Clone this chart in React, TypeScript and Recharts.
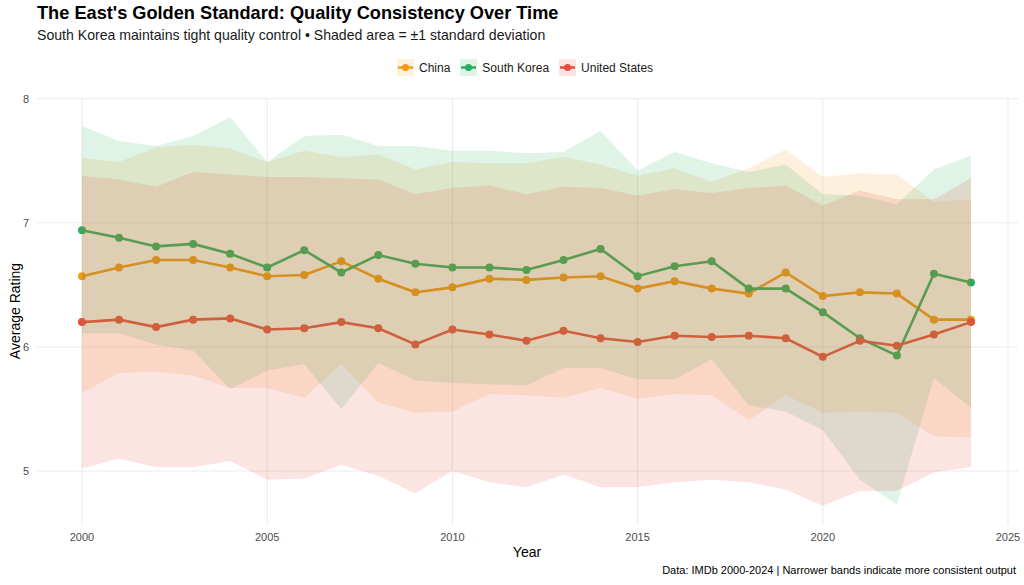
import React from 'react'
import { Area, ComposedChart, Line, ReferenceLine, XAxis, YAxis } from 'recharts'

// yearly average rating and the ±1 sd band edges
const years = [
  2000, 2001, 2002, 2003, 2004, 2005, 2006, 2007, 2008, 2009, 2010, 2011, 2012,
  2013, 2014, 2015, 2016, 2017, 2018, 2019, 2020, 2021, 2022, 2023, 2024,
]

const chinaMean = [6.57, 6.64, 6.7, 6.7, 6.64, 6.57, 6.58, 6.69, 6.55, 6.44, 6.48, 6.55, 6.54, 6.56, 6.57, 6.47, 6.53, 6.47, 6.43, 6.6, 6.41, 6.44, 6.43, 6.22, 6.22]
const chinaHigh = [7.52, 7.49, 7.61, 7.63, 7.6, 7.49, 7.58, 7.53, 7.55, 7.43, 7.49, 7.48, 7.48, 7.53, 7.47, 7.38, 7.44, 7.33, 7.44, 7.59, 7.37, 7.4, 7.39, 7.17, 7.19]
const chinaLow = [5.63, 5.79, 5.8, 5.77, 5.67, 5.67, 5.59, 5.86, 5.55, 5.47, 5.48, 5.62, 5.61, 5.59, 5.67, 5.58, 5.62, 5.61, 5.41, 5.61, 5.47, 5.48, 5.47, 5.28, 5.27]

const koreaMean = [6.94, 6.88, 6.81, 6.83, 6.75, 6.64, 6.78, 6.6, 6.74, 6.67, 6.64, 6.64, 6.62, 6.7, 6.79, 6.57, 6.65, 6.69, 6.47, 6.47, 6.28, 6.07, 5.93, 6.59, 6.52]
const koreaHigh = [7.78, 7.66, 7.62, 7.7, 7.85, 7.49, 7.7, 7.71, 7.62, 7.62, 7.58, 7.58, 7.56, 7.57, 7.74, 7.42, 7.57, 7.48, 7.41, 7.47, 7.23, 7.22, 7.15, 7.43, 7.54]
const koreaLow = [6.11, 6.11, 6.02, 5.97, 5.66, 5.81, 5.86, 5.5, 5.87, 5.73, 5.71, 5.7, 5.69, 5.83, 5.83, 5.74, 5.74, 5.9, 5.53, 5.48, 5.33, 4.93, 4.73, 5.75, 5.51]

const usMean = [6.2, 6.22, 6.16, 6.22, 6.23, 6.14, 6.15, 6.2, 6.15, 6.02, 6.14, 6.1, 6.05, 6.13, 6.07, 6.04, 6.09, 6.08, 6.09, 6.07, 5.92, 6.05, 6.01, 6.1, 6.2]
const usHigh = [7.38, 7.35, 7.29, 7.41, 7.39, 7.37, 7.37, 7.36, 7.35, 7.23, 7.28, 7.3, 7.23, 7.29, 7.28, 7.22, 7.27, 7.24, 7.28, 7.3, 7.14, 7.26, 7.19, 7.19, 7.36]
const usLow = [5.02, 5.1, 5.03, 5.03, 5.08, 4.93, 4.94, 5.05, 4.96, 4.82, 5.0, 4.91, 4.87, 4.97, 4.87, 4.87, 4.91, 4.93, 4.91, 4.85, 4.72, 4.84, 4.84, 4.99, 5.03]

const xTicks = [2000, 2005, 2010, 2015, 2020, 2025]
const yTicks = [5, 6, 7, 8]
const xDomain = [1998.785, 2025.27]
const yDomain = [4.565, 8.006]

const countries = [
  { key: 'china', name: 'China', color: '#F39C12' },
  { key: 'korea', name: 'South Korea', color: '#27AE60' },
  { key: 'us', name: 'United States', color: '#E74C3C' },
]

const data = years.map((year, i) => ({
  year,
  china: chinaMean[i],
  chinaBand: [chinaLow[i], chinaHigh[i]],
  korea: koreaMean[i],
  koreaBand: [koreaLow[i], koreaHigh[i]],
  us: usMean[i],
  usBand: [usLow[i], usHigh[i]],
}))

const font = '"Liberation Sans", Arial, Helvetica, sans-serif'
const tickStyle = { fill: '#4d4d4d', fontSize: 11, fontFamily: font }
const W = 1024
const H = 585
const layer = { position: 'absolute' as const, left: 0, top: 0 }
// same plot box in every layer
const shownMargin = { top: 98, right: 6, left: 7, bottom: 30 }
const hiddenMargin = { top: 98, right: 6, left: 37, bottom: 60 }

function LegendKey({ color }: { color: string }) {
  return (
    <svg width={17} height={17} style={{ display: 'block' }}>
      <rect x={0} y={0} width={17} height={17} fill={color} fillOpacity={0.15} />
      <line x1={1} y1={8.5} x2={16} y2={8.5} stroke={color} strokeWidth={2.5} />
      <circle cx={8.5} cy={8.5} r={3.5} fill={color} />
    </svg>
  )
}

export default function App() {
  return (
    <div style={{ position: 'absolute', left: 0, top: 0, width: W, height: H, background: '#fff', fontFamily: font }}>
      <div style={{ position: 'absolute', left: 37, top: 3, fontSize: 18.2, fontWeight: 700, color: '#000' }}>
        The East's Golden Standard: Quality Consistency Over Time
      </div>
      <div style={{ position: 'absolute', left: 37, top: 27, fontSize: 14.1, color: '#1a1a1a' }}>
        South Korea maintains tight quality control • Shaded area = ±1 standard deviation
      </div>

      <div style={{ position: 'absolute', left: 397, top: 59, display: 'flex', alignItems: 'center', fontSize: 12, color: '#1a1a1a' }}>
        {countries.map((c) => (
          <div key={c.key} style={{ display: 'flex', alignItems: 'center', marginRight: 10 }}>
            <LegendKey color={c.color} />
            <span style={{ marginLeft: 5 }}>{c.name}</span>
          </div>
        ))}
      </div>

      {/* layer 1: grid and axes */}
      <ComposedChart width={W} height={H} data={data} margin={shownMargin} style={layer}>
        <XAxis
          dataKey='year'
          type='number'
          domain={xDomain}
          ticks={xTicks}
          axisLine={false}
          tickLine={false}
          tick={tickStyle}
          height={30}
          allowDataOverflow
        />
        <YAxis
          domain={yDomain}
          ticks={yTicks}
          axisLine={false}
          tickLine={false}
          tick={tickStyle}
          width={30}
          allowDataOverflow
        />
        {yTicks.map((t) => (
          <ReferenceLine key={'h' + t} y={t} stroke='#ebebeb' strokeWidth={1} />
        ))}
        {xTicks.map((t) => (
          <ReferenceLine key={'v' + t} x={t} stroke='#ebebeb' strokeWidth={1} />
        ))}
      </ComposedChart>

      {/* layer 2: mean lines (under the ribbons, as in the original) */}
      <ComposedChart width={W} height={H} data={data} margin={hiddenMargin} style={layer}>
        <XAxis dataKey='year' type='number' domain={xDomain} hide allowDataOverflow />
        <YAxis domain={yDomain} hide allowDataOverflow />
        {countries.map((c) => (
          <Line
            key={c.key}
            type='linear'
            dataKey={c.key}
            stroke={c.color}
            strokeWidth={2.6}
            dot={{ r: 4, fill: c.color, stroke: 'none' }}
            activeDot={false}
            isAnimationActive={false}
          />
        ))}
      </ComposedChart>

      {/* layer 3: ±1 sd ribbons */}
      <ComposedChart width={W} height={H} data={data} margin={hiddenMargin} style={layer}>
        <XAxis dataKey='year' type='number' domain={xDomain} hide allowDataOverflow />
        <YAxis domain={yDomain} hide allowDataOverflow />
        {countries.map((c) => (
          <Area
            key={c.key + 'Band'}
            type='linear'
            dataKey={c.key + 'Band'}
            stroke='none'
            fill={c.color}
            fillOpacity={0.15}
            dot={false}
            activeDot={false}
            isAnimationActive={false}
          />
        ))}
      </ComposedChart>

      <svg width={W} height={H} style={{ ...layer, pointerEvents: 'none' }}>
        <text x={15} y={311} transform='rotate(-90 15 311)' textAnchor='middle' dominantBaseline='central' fontSize={14} fontFamily={font} fill='#000'>
          Average Rating
        </text>
        <text x={527} y={552} textAnchor='middle' dominantBaseline='central' fontSize={14} fontFamily={font} fill='#000'>
          Year
        </text>
      </svg>

      <div style={{ position: 'absolute', right: 8, top: 564, fontSize: 11, color: '#000' }}>
        Data: IMDb 2000-2024 | Narrower bands indicate more consistent output
      </div>
    </div>
  )
}
